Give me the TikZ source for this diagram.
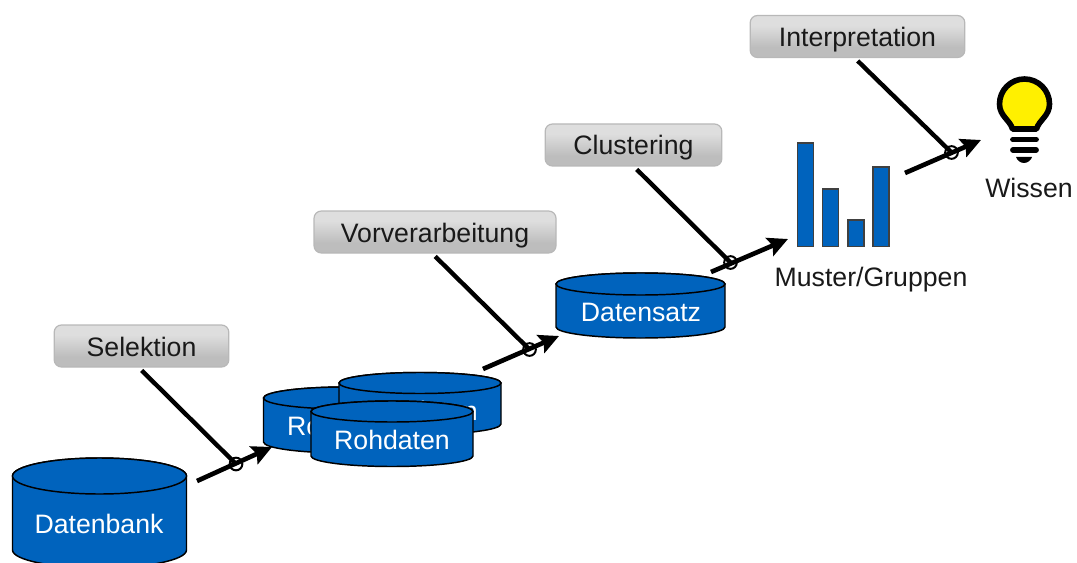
\documentclass[tikz,border=0pt]{standalone}
\usepackage{fontspec}
\setmainfont{Liberation Sans}
\usetikzlibrary{arrows.meta,shadings}
\definecolor{cylblue}{HTML}{0063BD}
\definecolor{bulbyellow}{HTML}{FFF000}
\pgfdeclareverticalshading{labelgrad}{100bp}{color(0bp)=(black!26); color(37bp)=(black!26); color(63bp)=(black!13); color(100bp)=(black!13)}
\tikzset{
  cylface/.style={fill=cylblue,draw=black,line width=1.1pt},
  cyltext/.style={text=white,font=\fontsize{20}{22}\selectfont,inner sep=0pt},
  stepbox/.style={rounded corners=5.5pt,draw=black!28,line width=0.9pt,shading=labelgrad,
    font=\fontsize{20}{22}\selectfont,text=black!90,inner sep=0pt,anchor=center,text height=15pt,text depth=0pt},
  plain/.style={font=\fontsize{20}{22}\selectfont,text=black!90,inner sep=0pt},
  leader/.style={line width=3.3pt,black,line cap=butt},
  flow/.style={line width=3.5pt,black,-{Stealth[length=15pt,width=14.5pt,inset=2.5pt]}},
  junction/.style={circle,draw=black,line width=1.5pt,minimum size=9.5pt,inner sep=0pt},
  barbox/.style={fill=cylblue,draw=black!75,line width=1pt},
}
% #1 name, #2 x left, #3 x right, #4 ellipse centre y, #5 ry, #6 side bottom y, #7 text, #8 text x, #9 text y
\newcommand{\mycyl}[9]{%
  \path[cylface] (#2,#4) -- (#2,#6) arc[start angle=180,end angle=0,x radius={(#3-#2)/2},y radius=#5]
     -- (#3,#4) arc[start angle=0,end angle=-180,x radius={(#3-#2)/2},y radius=#5] -- cycle;
  \path[cylface] ({(#2+#3)/2},#4) ellipse[x radius={(#3-#2)/2},y radius=#5];
  \node[cyltext] (#1) at (#8,#9) {#7};
}
\begin{document}
\begin{tikzpicture}[x=0.75pt,y=-0.75pt]
\useasboundingbox (0,0) rectangle (1077,563);
\clip (0,0) rectangle (1077,563);

% cylinders
\mycyl{db}{12.5}{186.5}{476}{18}{550}{Datenbank}{99}{524}
\mycyl{rawa}{263.5}{426}{398}{11}{442}{Rohdaten}{345}{426}
\mycyl{rawb}{339}{501}{383}{10.5}{424}{Rohdaten}{420}{411}
\mycyl{rawc}{311}{473}{411.5}{10.5}{456}{Rohdaten}{392}{440}
\mycyl{set}{556}{725}{284}{11}{327}{Datensatz}{641}{312}

% step labels
\node[stepbox,minimum width=131pt,minimum height=31.5pt] (sel) at (141.5,346) {Selektion};
\node[stepbox,minimum width=181.5pt,minimum height=31.5pt] (pre) at (435,232) {Vorverarbeitung};
\node[stepbox,minimum width=132.5pt,minimum height=31.5pt] (clu) at (633.5,145) {Clustering};
\node[stepbox,minimum width=161pt,minimum height=31.5pt] (int) at (857.5,36.5) {Interpretation};

% bars
\path[barbox] (797.5,143) rectangle (813.5,246.5);
\path[barbox] (822.5,189) rectangle (838.5,246.5);
\path[barbox] (848,220) rectangle (864,246.5);
\path[barbox] (873,167) rectangle (889,246.5);
\node[plain] (mus) at (871,280) {Muster/Gruppen};

% bulb
\path[fill=bulbyellow,draw=black,line width=4.2pt,line join=round]
  (1012.5,129) .. controls (1010,120) and (999.5,116) .. (999.5,104)
  arc[start angle=180,end angle=360,radius=25]
  .. controls (1049.5,116) and (1039,120) .. (1036.5,129) -- cycle;
\path[draw=black,line width=4.4pt,line cap=round] (1013,139.5) -- (1036,139.5);
\path[draw=black,line width=4.4pt,line cap=round] (1013,150) -- (1036,150);
\path[fill=black] (1016,157) -- (1032,157) .. controls (1031,160) and (1028,163) .. (1024,163) .. controls (1020,163) and (1017,160) .. (1016,157) -- cycle;
\node[plain] (wis) at (1029,188) {Wissen};

% junctions
\node[junction] (ja) at (236,464) {};
\node[junction] (jb) at (529.5,349.5) {};
\node[junction] (jc) at (730.5,262.5) {};
\node[junction] (jd) at (951.5,152.5) {};

% free ends of flow arrows
\coordinate (fa0) at (197,481);  \coordinate (fa1) at (272,447);
\coordinate (fb0) at (483,369);  \coordinate (fb1) at (559,336);
\coordinate (fc0) at (711,272);  \coordinate (fc1) at (788,239);
\coordinate (fd0) at (905,173);  \coordinate (fd1) at (981,140);

\draw[flow] (fa0) -- (fa1);
\draw[flow] (fb0) -- (fb1);
\draw[flow] (fc0) -- (fc1);
\draw[flow] (fd0) -- (fd1);

\draw[leader,shorten <=3pt] ([xshift=-2pt]sel.south) -- (ja.center);
\draw[leader,shorten <=3pt] ([xshift=-2pt]pre.south) -- (jb.center);
\draw[leader,shorten <=3pt] ([xshift=0.3pt]clu.south) -- (jc.center);
\draw[leader,shorten <=3pt] ([xshift=-2pt]int.south) -- (jd.center);
\end{tikzpicture}
\end{document}
